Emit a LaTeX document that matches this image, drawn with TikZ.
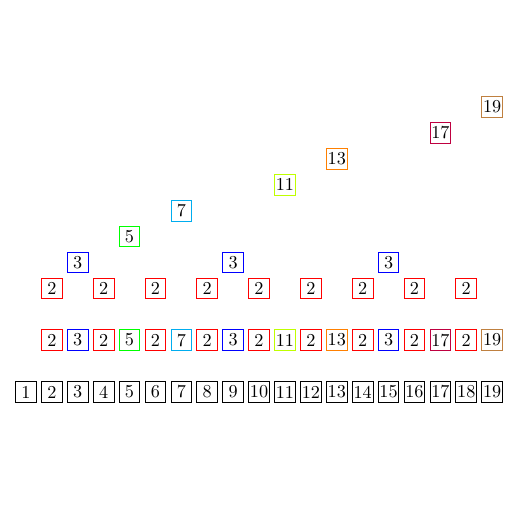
\documentclass[tikz,border=0pt]{standalone}
\begin{document}
\begin{tikzpicture}[x=0.5cm,y=0.5cm,
  numbox/.style={draw=black,line width=0.5pt,minimum size=0.4cm,inner sep=0.5pt,font=\normalsize},
  pbox/.style={line width=0.5pt,minimum size=0.4cm,inner sep=0.5pt,font=\normalsize}]
\useasboundingbox (0,-4.48) rectangle (19.61,15.13);
% bottom row
\foreach \i in {1,...,19} {\node[numbox] (n\i) at (\i,0) {\i};}
% smallest prime factor row
\foreach \i/\p/\col in {2/2/red,3/3/blue,4/2/red,5/5/green,6/2/red,7/7/cyan,8/2/red,9/3/blue,10/2/red,11/11/lime,12/2/red,13/13/orange,14/2/red,15/3/blue,16/2/red,17/17/purple,18/2/red,19/19/brown}
  {\node[pbox,draw=\col] (s\i) at (\i,2) {\p};}
% stacked by prime
\foreach \i/\p/\col/\l in {2/2/red/4,4/2/red/4,6/2/red/4,8/2/red/4,10/2/red/4,12/2/red/4,14/2/red/4,16/2/red/4,18/2/red/4,3/3/blue/5,9/3/blue/5,15/3/blue/5,5/5/green/6,7/7/cyan/7,11/11/lime/8,13/13/orange/9,17/17/purple/10,19/19/brown/11}
  {\node[pbox,draw=\col] (t\i) at (\i,\l) {\p};}
\end{tikzpicture}
\end{document}
